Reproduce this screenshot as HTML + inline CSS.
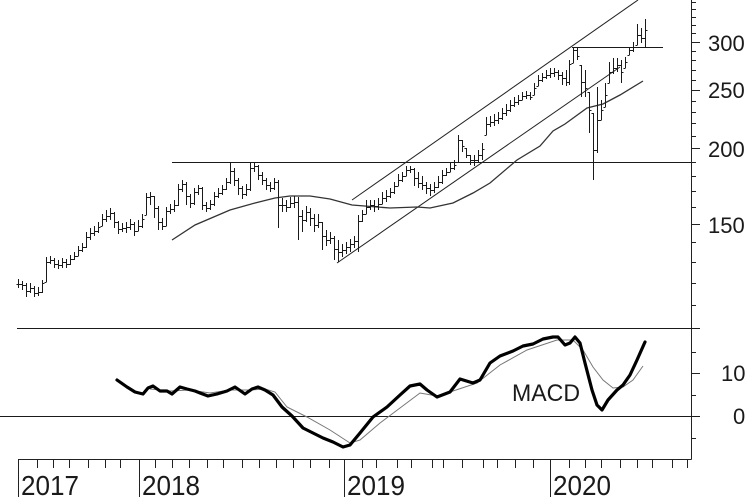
<!DOCTYPE html>
<html><head><meta charset="utf-8"><style>
html,body{margin:0;padding:0;background:#fff;}
svg{display:block}
text{font-family:"Liberation Sans",Arial,sans-serif;fill:#1a1a1a}
</style></head><body>
<svg id="c" width="755" height="504" viewBox="0 0 755 504" xmlns="http://www.w3.org/2000/svg">
<rect width="755" height="504" fill="#fff"/>
<g id="axes" stroke="#222" stroke-width="1" fill="none" shape-rendering="crispEdges"></g>
<!-- horizontal reference lines -->
<g stroke="#1a1a1a" stroke-width="1" shape-rendering="crispEdges">
<line x1="172" y1="162.5" x2="691" y2="162.5"/>
<line x1="572" y1="47.5" x2="663" y2="47.5"/>
<line x1="17" y1="328.5" x2="700" y2="328.5"/>
<line x1="0" y1="416.5" x2="700" y2="416.5"/>
</g>
<!-- channel lines -->
<g stroke="#222" stroke-width="1" fill="none">
<line x1="352" y1="200" x2="638" y2="0"/>
<line x1="337" y1="263" x2="620" y2="67"/>
</g>
<!-- moving average -->
<polyline fill="none" stroke="#333" stroke-width="1.3" points="172,240 195,225 230,210 255,203 275,198 290,196 310,196 330,199 352,205 390,208 417,207 430,208 453,203 473,193 490,183 517,160 540,146 553,131 565,124 587,108 603,104 620,95 643,81"/>
<path id="bars" stroke="#1a1a1a" stroke-width="1" fill="none" shape-rendering="crispEdges"/>
<!-- MACD -->
<polyline fill="none" stroke="#777" stroke-width="1" points="150,389 170,391 190,390 210,393 230,390 250,390 265,389 275,392 287,407 307,417 330,430 350,443 360,440 380,423 400,408 420,393 437,396 453,391 477,383 500,365 527,350 557,340 573,340 583,350 593,367 603,380 613,388 623,387 633,380 643,366"/>
<polyline fill="none" stroke="#000" stroke-width="3.2" stroke-linejoin="round" stroke-linecap="round" points="117,380 127,387 135,392 143,394 148,388 153,386 160,391 167,391 172,394 180,387 187,389 195,391 200,393 208,396 217,394 227,391 235,387 245,394 252,389 258,387 265,390 273,395 282,407 292,416 303,428 313,433 323,438 333,442 343,447 350,445 360,433 373,417 387,407 400,395 410,386 420,384 427,390 437,397 450,392 460,379 473,383 480,380 490,363 500,356 513,351 523,346 533,344 543,339 553,337 558,337 565,345 570,343 575,337 580,343 585,363 592,390 597,405 602,410 608,400 617,390 623,385 630,375 637,360 645,342"/>
<text x="512" y="401" font-size="24.5" textLength="68" lengthAdjust="spacingAndGlyphs">MACD</text>
<!-- right labels -->
<text x="708" y="51" font-size="22">300</text>
<text x="708" y="98" font-size="22">250</text>
<text x="708" y="157" font-size="22">200</text>
<text x="708" y="233" font-size="22">150</text>
<text x="721" y="381" font-size="22">10</text>
<text x="733" y="424" font-size="22">0</text>
<!-- year labels -->
<text x="21" y="495" font-size="28" textLength="58" lengthAdjust="spacingAndGlyphs">2017</text>
<text x="142" y="495" font-size="28" textLength="58" lengthAdjust="spacingAndGlyphs">2018</text>
<text x="347" y="495" font-size="28" textLength="58" lengthAdjust="spacingAndGlyphs">2019</text>
<text x="553" y="495" font-size="28" textLength="58" lengthAdjust="spacingAndGlyphs">2020</text>
</svg>
<script>
(function(){
var NS="http://www.w3.org/2000/svg";
var ax=document.getElementById('axes');
var d="";
// right axis
d+="M691.5 0V459.5";
// bottom axis
d+="M18 459.5H691.5";
// price ticks
for(var p=110;p<=350;p+=10){
  var y=Math.round(42+262.6*Math.log(300/p))+0.5;
  var maj=(p==150||p==200||p==250||p==300);
  d+="M691 "+y+"H"+(maj?700:696);
}
// macd ticks
[[15,0],[10,1],[5,0],[-5,0]].forEach(function(t){
  var y=Math.round(416-4.3*t[0])+0.5;
  d+="M691 "+y+"H"+(t[1]?700:696);
});
// x ticks
var xt=[18,37,53,69,88,105,120,139,155,172,189,207,223,242,259,276,293,310,329,344,362,376,397,411,432,443,462,483,497,515,533,550,569,585,601,620,637,652,672,687];
var longs={18:1,139:1,344:1,550:1};
xt.forEach(function(x){
  var X=x+0.5;
  d+="M"+X+" 459V"+(longs[x]?497:468);
});
var pth=document.createElementNS(NS,"path");
pth.setAttribute("d",d);
ax.appendChild(pth);

var B=[
[18,284,279,288],[22,285,281,290],[26,291,283,297],[30,288,283,293],[34,293,286,297],[38,292,287,296],[42,283,280,293],[46,262,257,282],[50,260,256,264],[54,264,258,268],[58,265,260,269],[62,262,258,268],[66,264,259,268],[70,259,255,265],[74,256,252,260],[78,250,246,256],[82,247,243,252],[86,237,232,248],[90,233,228,240],[94,231,226,236],[98,227,222,233],[102,219,214,226],[106,216,210,222],[110,213,208,220],[114,222,212,228],[118,229,221,234],[122,228,223,232],[126,227,222,233],[130,224,219,230],[134,231,222,236],[138,226,220,231],[142,219,214,228],[146,197,193,215],[150,196,192,205],[154,208,196,218],[158,222,206,230],[162,226,218,230],[166,211,207,226],[170,209,204,214],[174,205,200,212],[178,189,184,206],[182,184,180,192],[186,196,182,205],[190,203,194,208],[194,192,188,205],[198,188,185,195],[202,205,187,210],[206,208,202,212],[210,204,200,210],[214,196,192,206],[218,193,188,198],[222,189,185,195],[226,182,178,190],[230,171,163,184],[234,180,168,186],[238,188,178,195],[242,194,186,199],[246,189,184,196],[250,168,163,191],[254,166,163,172],[258,175,165,180],[262,180,172,185],[266,185,178,190],[270,188,182,192],[274,182,178,190],[278,205,180,228],[282,205,198,212],[286,207,200,212],[290,203,197,208],[294,202,196,208],[298,216,197,240],[302,220,210,232],[306,212,206,222],[310,218,208,226],[314,225,214,232],[318,222,214,228],[322,236,222,250],[326,240,230,246],[330,238,232,244],[334,249,236,260],[338,252,240,262],[342,250,244,257],[346,247,242,254],[350,244,239,252],[354,241,236,248],[358,221,215,252],[362,214,210,222],[366,207,200,214],[370,205,200,210],[374,206,200,212],[378,204,198,210],[382,198,192,204],[386,196,190,202],[390,192,188,198],[394,186,182,194],[398,180,174,186],[402,176,172,182],[406,170,166,176],[410,169,166,173],[414,178,168,186],[418,183,172,188],[422,185,176,190],[426,188,182,194],[430,190,184,196],[434,187,182,193],[438,182,176,188],[442,175,170,184],[446,172,168,176],[450,168,162,172],[454,165,160,170],[458,140,135,162],[462,146,140,152],[466,155,148,158],[470,160,155,165],[474,160,155,166],[478,155,150,162],[482,149,143,160],[486,124,117,135],[490,122,116,127],[494,120,114,126],[498,118,112,124],[502,113,108,120],[506,110,104,116],[510,105,100,112],[514,102,97,107],[518,100,95,105],[522,96,92,100],[526,95,91,99],[530,97,92,100],[534,88,83,95],[538,80,75,86],[542,77,73,82],[546,75,70,79],[550,73,68,78],[554,72,68,77],[558,75,70,80],[562,78,72,85],[566,82,70,86],[569,64,60,85],[573,50,47,63],[577,56,48,60],[581,82,65,97],[585,88,70,97],[589,110,92,133],[593,150,113,180],[597,120,87,153],[601,110,100,120],[605,95,83,107],[609,72,62,83],[613,68,58,74],[617,65,58,72],[621,72,60,83],[625,62,57,68],[629,50,47,55],[633,47,42,52],[637,35,24,45],[641,38,28,43],[645,30,19,47]
];
var bd="";
var prev=B[0][1];
for(var i=0;i<B.length;i++){
  var x=B[i][0],c=B[i][1],h=B[i][2],l=B[i][3];
  var X=x+0.5;
  var o=Math.min(Math.max(prev,h),l);
  bd+="M"+X+" "+h+"V"+l+"M"+(X-2)+" "+(o+0.5)+"H"+X+"M"+X+" "+(c+0.5)+"H"+(X+2);
  prev=c;
}
document.getElementById('bars').setAttribute('d',bd);
})();
</script>
</body></html>
